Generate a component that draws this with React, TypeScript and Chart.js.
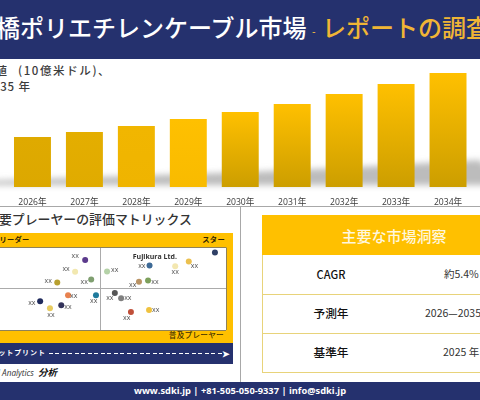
import React, { useEffect, useRef } from "react";
import { Chart, registerables } from "chart.js";

Chart.register(...registerables);

// ---- Data ----
const years = ["2026年", "2027年", "2028年", "2029年", "2030年", "2031年", "2032年", "2033年", "2034年"];
const marketValues = [5.0, 5.5, 6.1, 6.8, 7.5, 8.3, 9.3, 10.3, 11.4];

const playerX = [44.0, 40.0, 46.4, 32.9, 52.7, 95.6, 85.2, 79.8, 69.6, 65.4, 69.0, 37.2, 48.3, 55.8, 58.3, 26.1, 30.0, 34.5, 62.2, 69.4];
const playerY = [84.9, 70.5, 61.2, 57.6, 70.9, 93.8, 82.9, 77.3, 78.1, 58.4, 60.0, 42.0, 42.0, 44.8, 38.4, 34.7, 26.3, 29.9, 21.9, 24.3];
const playerNames = ["xx", "xx", "xx", "xx", "xx", "", "xx", "xx", "xx", "xx", "xx", "xx", "xx", "xx", "xx", "xx", "xx", "xx", "xx", "xx"];

const insightLabels = ["CAGR", "予測年", "基準年"];
const insightValues = ["約5.4%", "2026—2035", "2025 年"];

// ---- Styles ----
const barTop = ["#DFAA00", "#E4AE00", "#F1B600", "#FFC000", "#FFC000", "#FFC000", "#FFC000", "#FFC000", "#FFC000"];
const barBottom = ["#DCA800", "#E0AB00", "#EFB400", "#F8BB00", "#CC9E00", "#CC9E00", "#CC9E00", "#CC9E00", "#CC9E00"];
const playerColors = ["#5B3A8C", "#F2E8B0", "#7F9F70", "#B8A030", "#B5D2A8", "#2F4066", "#EBC04F", "#F3E7B0", "#3E6A96", "#B99365", "#7DA05C", "#E8824F", "#1F7A9C", "#555555", "#808080", "#1F2A5C", "#E8CC60", "#33335A", "#C0503A", "#EFC23F"];
const labelDx = [-10, -9, -7, -9, 7.7, 0, 5.7, 0, -7.7, -6.3, 7, 5.7, -2.3, -5, 6.7, -8.3, 1, 6.7, -4.3, 6.7];
const labelDy = [-4, -3, 2.3, -1, -2, 0, 4.3, 5.3, 0, 3, 1.3, 1, 5.3, 4.7, -0.7, 2, 6.7, 2, 5.7, -0.3];

const NAVY = "#25316E";
const GOLD = "#FFC000";
const JP = '"Noto Sans CJK JP", "Noto Sans", sans-serif';

function T({ x, y, size, color, weight, children, center, right, spacing, italic }: any) {
  const style: any = {
    position: "absolute",
    top: y,
    fontSize: size,
    color,
    fontWeight: weight || 400,
    lineHeight: 1,
    whiteSpace: "nowrap",
    fontFamily: JP,
    letterSpacing: spacing || 0,
    fontStyle: italic ? "italic" : "normal",
    transform: center ? "translate(-50%, -50%)" : "translateY(-50%)",
  };
  if (right !== undefined) style.right = right;
  else style.left = x;
  return <div style={style}>{children}</div>;
}

function Box({ x, y, w, h, bg }: any) {
  return <div style={{ position: "absolute", left: x, top: y, width: w, height: h, background: bg }} />;
}

export default function App() {
  const barRef = useRef<HTMLCanvasElement>(null);
  const dotRef = useRef<HTMLCanvasElement>(null);

  useEffect(() => {
    const barChart = new Chart(barRef.current!, {
      type: "bar",
      data: {
        labels: years,
        datasets: [
          {
            data: marketValues,
            categoryPercentage: 0.7115,
            barPercentage: 1,
            backgroundColor: (c: any) => {
              const { chart, dataIndex } = c;
              const y = chart.scales?.y;
              if (!y || dataIndex === undefined) return GOLD;
              const y0 = y.getPixelForValue(marketValues[dataIndex]);
              const y1 = y.getPixelForValue(0);
              if (!Number.isFinite(y0) || !Number.isFinite(y1)) return GOLD;
              const g = chart.ctx.createLinearGradient(0, y0, 0, y1);
              g.addColorStop(0, barTop[dataIndex]);
              g.addColorStop(1, barBottom[dataIndex]);
              return g;
            },
          },
        ],
      },
      options: {
        animation: false,
        responsive: false,
        layout: { padding: { left: 0.5, right: 0, top: 0, bottom: 0 } },
        plugins: { legend: { display: false }, tooltip: { enabled: false } },
        scales: {
          y: { display: false, min: 0, max: 12.7 },
          x: {
            grid: { display: false, drawTicks: false },
            border: { display: false },
            afterFit: (s: any) => { s.height = 19; },
            ticks: {
              padding: 10,
              color: "#3A3A3A",
              maxRotation: 0,
              autoSkip: false,
              font: { family: '"Open Sans", "Noto Sans CJK JP", sans-serif', size: 8.6 },
            },
          },
        },
      },
    } as any);

    const framePlugin = {
      id: "frameAndLabels",
      beforeDraw(chart: any) {
        const { ctx, chartArea: a } = chart;
        ctx.save();
        ctx.fillStyle = "#FFFFFF";
        ctx.fillRect(a.left, a.top, a.width, a.height);
        ctx.restore();
      },
      afterDatasetsDraw(chart: any) {
        const { ctx } = chart;
        const pts = chart.getDatasetMeta(0).data;
        ctx.save();
        ctx.textAlign = "center";
        ctx.textBaseline = "middle";
        ctx.fillStyle = "#555555";
        ctx.font = '7px "Open Sans", sans-serif';
        pts.forEach((p: any, i: number) => {
          if (playerNames[i]) ctx.fillText(playerNames[i], p.x + labelDx[i], p.y + labelDy[i]);
        });
        ctx.fillStyle = "#333333";
        ctx.font = 'bold 7px "Open Sans", sans-serif';
        ctx.fillText("Fujikura Ltd.", pts[8].x + 5.3, pts[8].y - 9);
        ctx.restore();
      },
    };

    const dotChart = new Chart(dotRef.current!, {
      type: "scatter",
      data: {
        datasets: [
          {
            data: playerX.map((x, i) => ({ x, y: playerY[i] })),
            backgroundColor: playerColors,
            borderWidth: 0,
            pointRadius: 3,
          },
        ],
      },
      plugins: [framePlugin],
      options: {
        animation: false,
        responsive: false,
        layout: { padding: { left: 4.5, right: 3.5, top: 4.5, bottom: 4 } },
        plugins: { legend: { display: false }, tooltip: { enabled: false } },
        scales: {
          x: {
            min: 0,
            max: 100,
            ticks: { display: false, stepSize: 50 },
            border: { display: false },
            grid: { color: (c: any) => (c.index === 1 ? "#ABABAB" : "#8F8258"), drawTicks: false, lineWidth: 1 },
          },
          y: {
            min: 0,
            max: 100,
            ticks: { display: false, stepSize: 50 },
            border: { display: false },
            grid: { color: (c: any) => (c.index === 1 ? "#ABABAB" : "#8F8258"), drawTicks: false, lineWidth: 1 },
          },
        },
      },
    } as any);

    return () => {
      barChart.destroy();
      dotChart.destroy();
    };
  }, []);

  return (
    <div style={{ position: "absolute", left: 0, top: 0, width: 480, height: 400, overflow: "hidden", background: "#FFFFFF" }}>
      {/* header */}
      <Box x={0} y={0} w={480} h={59} bg={NAVY} />
      <T x={-28} y={27} size={24} weight={500} color="#FFFFFF">架橋ポリエチレンケーブル市場</T>
      <T x={312} y={31} size={10} weight={500} color="#F0B840">-</T>
      <T x={322} y={27} size={24} weight={500} color="#F0B535">レポートの調査</T>

      {/* bar chart area */}
      <T x={-43} y={71} size={11.5} weight={500} color="#3C3C3C" spacing={1.3}>市場価値</T>
      <T x={18} y={71} size={11.5} weight={500} color="#3C3C3C" spacing={1.6}>(10億米ドル)、</T>
      <T x={-49.6} y={87} size={11.5} weight={500} color="#3C3C3C" spacing={0.9}>2026-2035 年</T>
      <svg width={480} height={60} style={{ position: "absolute", left: 0, top: 145 }}>
        <defs>
          <filter id="b" x="-10%" y="-30%" width="120%" height="160%">
            <feGaussianBlur stdDeviation="3" />
          </filter>
        </defs>
        <polygon points="-20,36 100,32 250,27 340,23 480,15 500,40 -20,40" fill="#BCBCBC" filter="url(#b)" />
      </svg>
      <canvas ref={barRef} width={468} height={146} style={{ position: "absolute", left: 6, top: 60, width: 468, height: 146 }} />

      {/* panel dividers */}
      <Box x={0} y={206} w={480} h={1} bg="#A8A8A8" />
      <Box x={240} y={206} w={1} h={176} bg="#A8A8A8" />

      {/* matrix */}
      <T x={-14} y={219} size={12.9} weight={500} color="#333333">主要プレーヤーの評価マトリックス</T>
      <Box x={-10} y={233} w={242.5} h={110} bg={GOLD} />
      <T x={-0.5} y={240} size={7.2} weight={700} color="#2E2200" spacing={0.3}>リーダー</T>
      <T right={480 - 225} y={240} size={7.3} weight={700} color="#2E2200" spacing={0.3}>スター</T>
      <T right={480 - 224} y={334.5} size={7.6} weight={500} color="#3F3000" spacing={0.3}>普及プレーヤー</T>
      <canvas ref={dotRef} width={260} height={91} style={{ position: "absolute", left: -30, top: 243, width: 260, height: 91 }} />
      <Box x={-10} y={343} w={242.5} h={21} bg={NAVY} />
      <T x={-9.5} y={352} size={7} weight={700} color="#FFFFFF" spacing={0.9}>フットプリント</T>
      <div style={{ position: "absolute", left: 49, top: 353, width: 174, height: 1.3, background: "repeating-linear-gradient(90deg, #FFFFFF 0 4px, transparent 4px 6.5px)" }} />
      <T x={222} y={353} size={9} weight={700} color="#FFFFFF">➤</T>
      <div style={{ position: "absolute", right: 480 - 57, top: 373, transform: "translateY(-50%)", whiteSpace: "nowrap", lineHeight: 1, color: "#333333", fontStyle: "italic", fontFamily: '"Open Sans", sans-serif', fontSize: 8.2 }}>
        SDKI Analytics <span style={{ fontFamily: JP, fontSize: 9.5, fontWeight: 700, color: "#111111", marginLeft: 2 }}>分析</span>
      </div>

      {/* table */}
      <Box x={262} y={215} w={218} h={40} bg={GOLD} />
      <T x={394} y={235} size={15} weight={500} color="#FFF7DD" center>主要な市場洞察</T>
      <Box x={262} y={255} w={1} h={117} bg="#E8D37A" />
      {[293.5, 332.5, 371.5].map((y) => (
        <Box key={y} x={262} y={y} w={218} h={1} bg="#E8D37A" />
      ))}
      {insightLabels.map((s, i) => (
        <T key={s} x={331} y={274 + i * 39} size={i === 0 ? 11 : 11.7} weight={500} color="#111111" center>{s}</T>
      ))}
      {insightValues.map((s, i) => (
        <T key={s} x={[444, 425, 443][i]} y={274 + i * 39} size={10.5} color="#333333">{s}</T>
      ))}

      {/* footer */}
      <Box x={0} y={382} w={480} h={18} bg={NAVY} />
      <div style={{ position: "absolute", left: 0, width: 480, top: 391, transform: "translateY(-50%)", textAlign: "center", fontFamily: '"Open Sans", sans-serif', fontWeight: 700, fontSize: 9.3, lineHeight: 1, color: "#FFFFFF" }}>
        www.sdki.jp | +81-505-050-9337 | info@sdki.jp
      </div>
    </div>
  );
}
